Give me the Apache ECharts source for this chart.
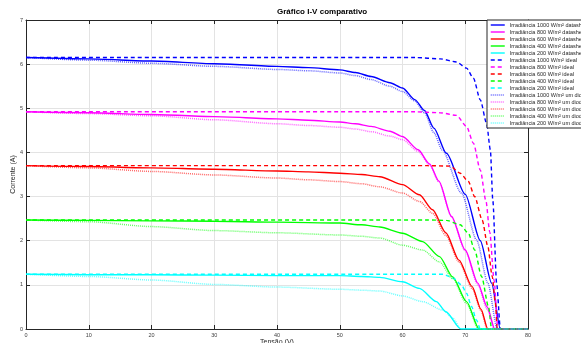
<!DOCTYPE html>
<html>
<head>
<meta charset="utf-8">
<script src="https://cdn.jsdelivr.net/npm/echarts@6/dist/echarts.min.js"></script>
<style>
  html, body { margin: 0; padding: 0; background: #fff; }
  #chart { width: 581px; height: 343px; }
</style>
</head>
<body>
<div id="chart"></div>
<script>
// I-V curves, [tensão (V), corrente (A)] pairs

// datasheet curves
const ds1000 = [[0,6.15],[10,6.12],[20,6.07],[30,6.01],[40,5.95],[45,5.92],[50,5.87],[52.5,5.81],[55,5.72],[58,5.58],[60,5.46],[62,5.19],[63.5,4.95],[65,4.55],[67,3.98],[70,3.05],[72.4,2.0],[74.2,1.04],[75.6,0],[80,0]];
const ds800  = [[0,4.92],[10,4.90],[20,4.86],[30,4.81],[40,4.76],[45,4.73],[50,4.69],[52.5,4.65],[55,4.59],[58,4.48],[60,4.36],[62.5,4.06],[64.3,3.74],[65.8,3.35],[67.8,2.55],[70,1.79],[72,1.04],[73.5,0.5],[74.7,0],[80,0]];
const ds600  = [[0,3.70],[10,3.68],[20,3.65],[30,3.62],[40,3.58],[45,3.56],[50,3.53],[53.5,3.50],[56.4,3.45],[60,3.27],[62.7,3.04],[64.8,2.70],[66.9,2.18],[69,1.56],[71.1,0.96],[72.5,0.45],[73.6,0],[80,0]];
const ds400  = [[0,2.47],[10,2.46],[20,2.45],[30,2.44],[40,2.42],[50,2.40],[53.5,2.36],[56.4,2.31],[60,2.17],[63.2,1.98],[65.9,1.64],[68,1.18],[70.2,0.62],[72.2,0],[80,0]];
const ds200  = [[0,1.24],[10,1.23],[20,1.23],[30,1.22],[40,1.21],[50,1.21],[53.5,1.19],[56.4,1.17],[60,1.07],[62.7,0.92],[65.4,0.62],[66.9,0.39],[69.3,0],[80,0]];

// ideal curves
const id1000 = [[0,6.15],[62,6.15],[66,6.12],[68.6,6.05],[70.2,5.91],[71.3,5.68],[72.4,5.19],[73.4,4.66],[74.0,4.06],[74.4,2.9],[75.0,1.04],[75.6,0],[80,0]];
const id800  = [[0,4.92],[62,4.92],[66,4.90],[68.6,4.84],[70.2,4.59],[71.3,4.21],[72.4,3.6],[73.3,2.9],[73.9,2.2],[74.6,1.1],[75.2,0],[80,0]];
const id600  = [[0,3.70],[64,3.70],[67.6,3.69],[69.2,3.53],[70.5,3.34],[71.5,3.0],[72.7,2.47],[73.6,1.87],[74.3,1.19],[74.8,0.59],[75.1,0],[80,0]];
const id400  = [[0,2.47],[64,2.47],[67,2.46],[69.2,2.36],[70.5,2.17],[71.5,1.79],[72.6,1.19],[73.7,0.51],[74.2,0],[80,0]];
const id200  = [[0,1.24],[64,1.24],[66.5,1.24],[68.1,1.15],[69.4,1.0],[70.2,0.81],[71,0.51],[71.8,0.2],[72.4,0],[80,0]];

// one-diode model curves
const od1000 = [[0,6.15],[10,6.09],[20,6.02],[30,5.95],[40,5.88],[45,5.85],[50,5.80],[52.5,5.74],[55,5.65],[58,5.50],[60,5.38],[62,5.16],[63.5,4.9],[65,4.45],[66.3,4.06],[69.4,3.08],[71.8,2.02],[73.6,1.04],[75.1,0],[80,0]];
const od800  = [[0,4.92],[10,4.88],[20,4.83],[30,4.74],[40,4.65],[45,4.61],[50,4.57],[52.5,4.53],[55,4.47],[58,4.37],[60,4.29],[62.5,4.02],[64.3,3.72],[65.8,3.33],[67.8,2.55],[70,1.77],[72,1.0],[73.5,0.45],[74.6,0],[80,0]];
const od600  = [[0,3.70],[10,3.65],[20,3.57],[30,3.49],[40,3.42],[45,3.38],[50,3.34],[53.5,3.29],[56.4,3.22],[60,3.08],[62.7,2.89],[64.8,2.62],[66.9,2.12],[69,1.52],[71.1,0.92],[72.5,0.42],[73.5,0],[80,0]];
const od400  = [[0,2.47],[10,2.43],[20,2.32],[30,2.23],[40,2.18],[50,2.13],[53.5,2.10],[56.4,2.06],[60,1.90],[63.2,1.79],[65.9,1.52],[68,1.14],[70.2,0.58],[72.1,0],[80,0]];
const od200  = [[0,1.24],[10,1.19],[20,1.11],[30,1.01],[40,0.95],[50,0.90],[53.5,0.88],[56.4,0.86],[60,0.75],[63.2,0.62],[66.4,0.43],[68,0.25],[69.3,0],[80,0]];

const irradiances = ['1000', '800', '600', '400', '200'];
const colors = ['#0000ff', '#ff00ff', '#ff0000', '#00ff00', '#00ffff'];
const datasheet = [ds1000, ds800, ds600, ds400, ds200];
const ideal = [id1000, id800, id600, id400, id200];
const oneDiode = [od1000, od800, od600, od400, od200];

const xTicks = { min: 0, max: 80, interval: 10 };
const yTicks = { min: 0, max: 7, interval: 1 };

const FONT = 'Liberation Sans, Arial, sans-serif';
const series = [];
const legendItems = [];
function addGroup(arr, suffix, lineType, width, opacity) {
  arr.forEach((d, i) => {
    const name = 'Irradiância ' + irradiances[i] + ' W/m² ' + suffix;
    const lineStyle = { color: colors[i], width: width, type: lineType, opacity: opacity };
    series.push({
      name: name,
      type: 'line',
      data: d,
      symbol: 'none',
      smooth: 0.25,
      smoothMonotone: 'x',
      clip: true,
      color: colors[i],
      lineStyle: lineStyle,
      itemStyle: { color: colors[i], opacity: opacity },
      emphasis: { disabled: true },
      animation: false
    });
    legendItems.push({ name: name, lineStyle: Object.assign({}, lineStyle), itemStyle: { opacity: 0 } });
  });
}
addGroup(datasheet, 'datasheet', 'solid', 1.4, 1);
addGroup(ideal, 'ideal', [4, 3], 1.4, 1);
addGroup(oneDiode, 'um diodo', [1, 1], 1.5, 0.6);

const axisColor = '#262626';
const chart = echarts.init(document.getElementById('chart'), null, { renderer: 'canvas' });
chart.setOption({
  backgroundColor: '#fff',
  animation: false,
  textStyle: { fontFamily: FONT },
  grid: { left: 26, right: 53, top: 20, bottom: 14, containLabel: false, outerBoundsMode: 'none' },
  graphic: [{
    type: 'text', left: 277, top: 8,
    style: { text: 'Gráfico I-V comparativo', font: 'bold 8px ' + FONT, fill: '#000', textAlign: 'center' }
  }],
  legend: {
    orient: 'vertical',
    left: 487, top: 20,
    width: 200, height: 300,
    padding: [2, 2, 2, 3],
    itemWidth: 14, itemHeight: 6, itemGap: 1,
    backgroundColor: '#fff',
    borderColor: '#262626', borderWidth: 1,
    itemStyle: { opacity: 0 },
    textStyle: { fontSize: 5.5, lineHeight: 6, color: '#262626', fontFamily: FONT },
    data: legendItems
  },
  xAxis: [{
    type: 'value', position: 'bottom', ...xTicks,
    name: 'Tensão (V)', nameLocation: 'middle', nameGap: 10, nameMoveOverlap: false,
    nameTextStyle: { fontSize: 7, color: '#262626' },
    axisLine: { show: true, onZero: false, lineStyle: { color: axisColor, width: 1 } },
    axisTick: { show: true, inside: true, length: 4, lineStyle: { color: axisColor } },
    axisLabel: { fontSize: 5.5, color: '#404040', margin: 3 },
    splitLine: { show: true, lineStyle: { color: '#e3e3e3', width: 1 } }
  }, {
    type: 'value', position: 'top', ...xTicks,
    axisLine: { show: true, onZero: false, lineStyle: { color: axisColor, width: 1 } },
    axisTick: { show: true, inside: true, length: 4, lineStyle: { color: axisColor } },
    axisLabel: { show: false },
    splitLine: { show: false }
  }],
  yAxis: [{
    type: 'value', position: 'left', ...yTicks,
    name: 'Corrente (A)', nameLocation: 'middle', nameGap: 9, nameMoveOverlap: false,
    nameTextStyle: { fontSize: 7, color: '#262626' },
    axisLine: { show: true, onZero: false, lineStyle: { color: axisColor, width: 1 } },
    axisTick: { show: true, inside: true, length: 4, lineStyle: { color: axisColor } },
    axisLabel: { fontSize: 5.5, color: '#404040', margin: 3 },
    splitLine: { show: true, lineStyle: { color: '#e3e3e3', width: 1 } }
  }, {
    type: 'value', position: 'right', ...yTicks,
    axisLine: { show: true, onZero: false, lineStyle: { color: axisColor, width: 1 } },
    axisTick: { show: true, inside: true, length: 4, lineStyle: { color: axisColor } },
    axisLabel: { show: false },
    splitLine: { show: false }
  }],
  series: series
});
</script>
</body>
</html>
